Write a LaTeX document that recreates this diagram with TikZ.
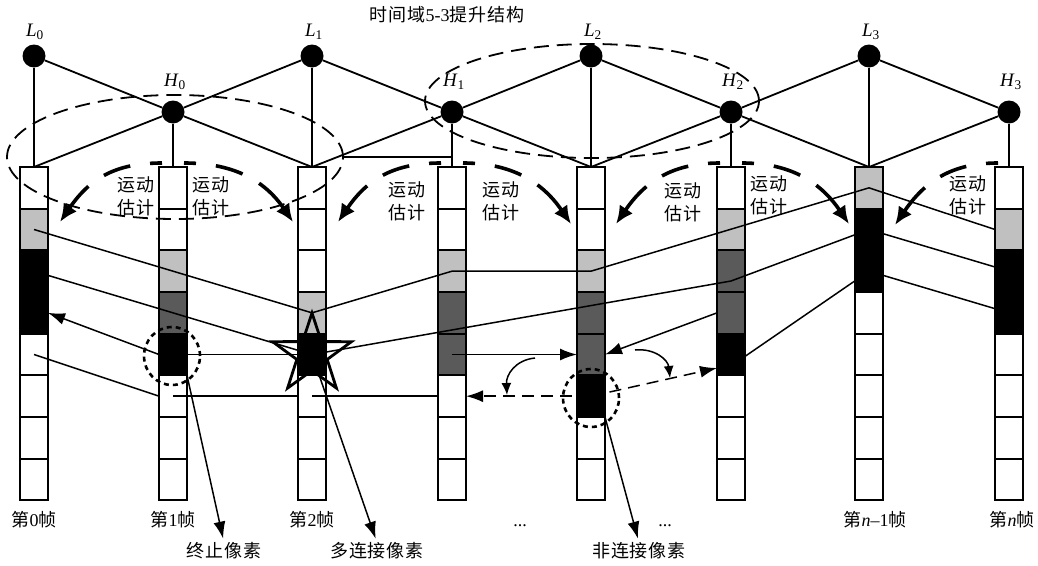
\documentclass[tikz,border=0pt]{standalone}
\usepackage{fontspec}
\setmainfont{Liberation Serif}
\newfontfamily\cjk[LetterSpace=5]{Noto Sans CJK SC}
\usetikzlibrary{arrows.meta,shapes.geometric}
\definecolor{lg}{RGB}{192,192,192}
\definecolor{dg}{RGB}{90,90,90}
\newcommand{\zhx}[1]{{\cjk #1}}
\begin{document}
\begin{tikzpicture}[x=1pt,y=-1pt,
  cell/.style={draw, line width=1.8pt, minimum width=28pt, minimum height=41.67pt, inner sep=0pt, outer sep=0pt},
  cw/.style={fill=white}, cl/.style={fill=lg}, cd/.style={fill=dg}, cb/.style={fill=black},
  dot/.style={circle, fill=black, minimum size=23pt, inner sep=0pt},
  struct/.style={line width=1.8pt},
  traj/.style={line width=1.5pt},
  arr/.style={-{Latex[length=17pt,width=12pt]}},
  sarr/.style={-{Latex[length=12pt,width=10pt]}},
  dsh/.style={dash pattern=on 12pt off 7pt},
  bigell/.style={ellipse, draw, line width=1.8pt, dash pattern=on 15pt off 8pt, inner sep=0pt},
  dotell/.style={ellipse, draw, line width=2.6pt, dash pattern=on 5pt off 4pt, inner sep=0pt, minimum width=56pt, minimum height=58pt},
  starn/.style={star, star points=5, star point ratio=2.6, minimum size=83pt, inner sep=0pt, draw, line width=2.8pt},
  mearc/.style={line width=3.6pt, dash pattern=on 12pt off 20pt on 28pt off 19pt on 90pt, -{Latex[length=18pt,width=16pt]}},
  zh/.style={font=\fontsize{18}{23}\selectfont, inner sep=0pt, align=center},
  me/.style={font=\cjk\fontsize{18}{23}\selectfont, inner sep=0pt, align=center},
  lat/.style={font=\fontsize{19}{19}\selectfont, inner sep=0pt},
]
\fill[white] (0,0) rectangle (1038,565);
\useasboundingbox (0,0) rectangle (1038,565);

% frames (columns of pixels)
\foreach \i/\x/\cs in {0/34/{w,l,b,b,w,w,w,w}, 1/173/{w,w,l,d,b,w,w,w}, 2/312/{w,w,w,l,b,w,w,w}, 3/452/{w,w,l,d,d,w,w,w}, 4/591/{w,w,l,d,d,b,w,w}, 5/731/{w,l,d,d,b,w,w,w}, 6/869/{l,b,b,w,w,w,w,w}, 7/1009/{w,l,b,b,w,w,w,w}}{
  \foreach \fc [count=\j from 0] in \cs {
    \node[cell, c\fc] (c\i-\j) at (\x, {187.83+41.67*\j}) {};
  }
}

% lifting structure nodes
\node[dot] (L0) at (34,56) {};
\node[dot] (H0) at (173,112) {};
\node[dot] (L1) at (312,56) {};
\node[dot] (H1) at (452,112) {};
\node[dot] (L2) at (591,56) {};
\node[dot] (H2) at (731,112) {};
\node[dot] (L3) at (869,56) {};
\node[dot] (H3) at (1009,112) {};

\foreach \a/\b in {L0/c0-0.north, L0/H0, H0/c1-0.north, H0/c0-0.north, H0/c2-0.north, H0/L1,
  L1/c2-0.north, L1/H1, H1/c3-0.north, H1/c2-0.north, H1/c4-0.north, H1/L2,
  L2/c4-0.north, L2/H2, H2/c5-0.north, H2/c4-0.north, H2/c6-0.north, H2/L3,
  L3/c6-0.north, L3/H3, H3/c7-0.north, H3/c6-0.north}
  \draw[struct] (\a) -- (\b);

\node[lat] (tL0) at (35,32) {\textit{L}\textsubscript{0}};
\node[lat] (tH0) at (175,82) {\textit{H}\textsubscript{0}};
\node[lat] (tL1) at (314,32) {\textit{L}\textsubscript{1}};
\node[lat] (tH1) at (454,82) {\textit{H}\textsubscript{1}};
\node[lat] (tL2) at (593,32) {\textit{L}\textsubscript{2}};
\node[lat] (tH2) at (733,82) {\textit{H}\textsubscript{2}};
\node[lat] (tL3) at (871,32) {\textit{L}\textsubscript{3}};
\node[lat] (tH3) at (1011,82) {\textit{H}\textsubscript{3}};

\node[zh] (title) at (447,15) {\zhx{时间域}5-3\zhx{提升结构}};

% trajectories
\coordinate (p5a) at (731,281);
\coordinate (p5b) at (731,366);
\coordinate (p5c) at (717,368);
\draw[traj] (c0-1.center) -- (c2-3.center) -- (c3-2.center) -- (c4-2.center) -- (c6-0.center) -- (c7-1.west);
\draw[traj] (c0-2.center) -- (c2-4.center);
\draw[traj] (c2-4.center) -- (p5a) -- (c6-1.center);
\draw[traj] (p5b) -- (c6-2.center);
\draw[traj] (c6-1.center) -- (c7-2.center);
\draw[traj] (c6-2.center) -- (c7-3.center);
\draw[traj,arr] (c1-4.west) -- (c0-3.east);
\draw[traj] (c1-4.east) -- (c2-4.center);
\draw[traj] (c0-4.center) -- (c1-5.west);
\draw[traj] (c1-5.center) -- (c2-5.west);
\draw[traj] (c2-5.center) -- (c3-5.west);
\draw[traj,dsh,arr] (c4-5.center) -- (c3-5.east);
\draw[traj,arr] (c3-4.center) -- (c4-4.west);
\draw[traj,arr] (c5-3.west) -- (c4-4.east);
\draw[traj,dsh,arr] (c4-5.center) -- (p5c);
\coordinate (k1s) at (535,358);
\coordinate (k1e) at (507,395);
\coordinate (k2s) at (635,350);
\coordinate (k2e) at (670,378);
\draw[traj,sarr] (k1s) .. controls +(-20,2) and +(-1,-20) .. (k1e);
\draw[traj,sarr] (k2s) .. controls +(20,-2) and +(-2,-18) .. (k2e);

% marks
\node[starn] (st) at (312,354.5) {};
\node[dotell] (o1) at (172,356) {};
\node[dotell] (o2) at (591,398) {};
\node[bigell, minimum width=336pt, minimum height=124pt] (e1) at (175,157) {};
\node[bigell, minimum width=334pt, minimum height=114pt] (e2) at (592,101) {};
\coordinate (h1v) at (452,157);
\draw[line width=1.1pt] (e1.east) -- (h1v);

% motion estimation arcs
\coordinate (a1ls) at (162,163); \coordinate (a1le) at (60,222);
\coordinate (a1rs) at (184,163); \coordinate (a1re) at (293,222);
\coordinate (a3ls) at (441,163); \coordinate (a3le) at (338,222);
\coordinate (a3rs) at (463,163); \coordinate (a3re) at (571,224);
\coordinate (a5ls) at (720,163); \coordinate (a5le) at (616,224);
\coordinate (a5rs) at (742,163); \coordinate (a5re) at (849,224);
\coordinate (a7ls) at (998,163); \coordinate (a7le) at (895,225);
\draw[mearc] (a1ls) .. controls +(-46,0) and +(30,-44) .. (a1le);
\draw[mearc] (a1rs) .. controls +(46,0) and +(-30,-44) .. (a1re);
\draw[mearc] (a3ls) .. controls +(-46,0) and +(30,-44) .. (a3le);
\draw[mearc] (a3rs) .. controls +(46,0) and +(-30,-44) .. (a3re);
\draw[mearc] (a5ls) .. controls +(-46,0) and +(30,-44) .. (a5le);
\draw[mearc] (a5rs) .. controls +(46,0) and +(-30,-44) .. (a5re);
\draw[mearc] (a7ls) .. controls +(-46,0) and +(30,-44) .. (a7le);

\node[me] (m1l) at (136,196) {运动\\估计};
\node[me] (m1r) at (211,196) {运动\\估计};
\node[me] (m3l) at (407,201) {运动\\估计};
\node[me] (m3r) at (501,201) {运动\\估计};
\node[me] (m5l) at (683,202) {运动\\估计};
\node[me] (m5r) at (769,195) {运动\\估计};
\node[me] (m7l) at (968,195) {运动\\估计};

% frame labels
\node[zh] (f0) at (34,520) {\zhx{第}0\zhx{帧}};
\node[zh] (f1) at (173,520) {\zhx{第}1\zhx{帧}};
\node[zh] (f2) at (312,520) {\zhx{第}2\zhx{帧}};
\node[zh] (d1) at (520,526) {...};
\node[zh] (d2) at (665,526) {...};
\node[zh] (fn1) at (875,520) {\zhx{第}\textit{n}–1\zhx{帧}};
\node[zh] (fn) at (1012,520) {\zhx{第}\textit{n}\zhx{帧}};

\node[zh] (t1) at (224,551) {\zhx{终止像素}};
\node[zh] (t2) at (377,551) {\zhx{多连接像素}};
\node[zh] (t3) at (639,551) {\zhx{非连接像素}};
\draw[traj,arr,shorten >=4pt] (c1-4.south east) -- (t1.north);
\draw[traj,arr,shorten >=4pt] (c2-4.center) -- (t2.north);
\draw[traj,arr,shorten >=4pt] (c4-5.south east) -- (t3.north);
\end{tikzpicture}
\end{document}
